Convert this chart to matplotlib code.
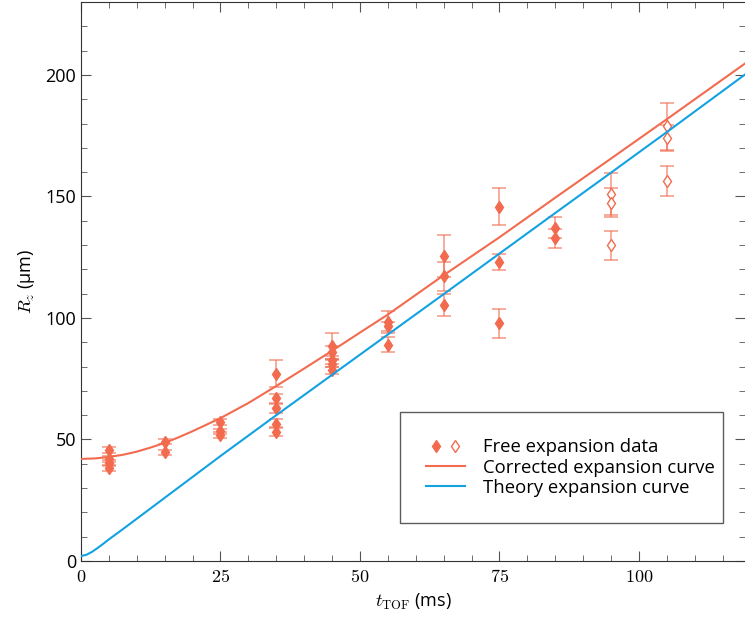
import matplotlib
matplotlib.use("Agg")
import matplotlib.pyplot as plt
import numpy as np
from matplotlib.ticker import MultipleLocator, FuncFormatter
from matplotlib.legend_handler import HandlerTuple
from matplotlib.lines import Line2D

plt.rcParams['font.family'] = ['Open Sans', 'DejaVu Sans']
plt.rcParams['mathtext.fontset'] = 'cm'

# free expansion data (filled markers)
t_filled = [5, 5, 5, 5, 15, 15, 25, 25, 25,
            35, 35, 35, 35, 35, 45, 45, 45, 45, 45,
            55, 55, 55, 65, 65, 65, 75, 75, 75, 85, 85]
r_filled = [45.5, 41.8, 40.3, 38.4, 49.0, 44.8, 57.3, 53.3, 51.9,
            77.0, 67.0, 62.8, 56.5, 53.2, 88.5, 85.8, 82.7, 81.2, 78.5,
            98.3, 96.5, 89.0, 125.5, 117.2, 105.3, 145.8, 123.2, 97.8, 137.2, 132.8]
e_filled = [1.2, 1.2, 1.2, 1.2, 1.0, 1.0, 1.2, 1.2, 1.2,
            5.5, 1.8, 1.8, 1.8, 1.8, 5.5, 2.5, 1.5, 1.5, 1.5,
            4.5, 2.0, 3.0, 8.5, 6.0, 4.5, 7.5, 3.3, 6.0, 4.5, 4.0]

# free expansion data (open markers)
t_open = [95, 95, 95, 105, 105, 105]
r_open = [151.0, 147.5, 129.9, 178.8, 174.0, 156.5]
e_open = [8.5, 6.0, 6.0, 9.5, 5.5, 6.2]

# curves
t_corr = [0, 2.5, 5, 7.5, 10, 12.5, 15, 17.5, 20, 25, 30, 35, 40, 45, 50, 55,
          65, 75, 85, 95, 105, 119.5]
r_corr = [42.0, 42.2, 42.8, 43.7, 45.0, 46.7, 48.6, 50.9, 53.4, 58.8, 65.0, 72.0, 79.2, 86.5,
          94.0, 101.4, 117.6, 133.2, 149.5, 165.6, 181.8, 205.5]
t_theo = [0, 1, 2, 3, 4, 5, 7.5, 10, 15, 20, 25, 35, 45, 55, 65, 75, 85, 95, 105, 119.5]
r_theo = [2.0, 2.6, 3.8, 5.4, 7.1, 8.9, 13.1, 17.4, 26.0, 34.6, 43.2, 60.0, 76.6, 93.2,
          109.8, 126.5, 143.2, 159.8, 176.5, 201.0]

RED = '#f26b4f'
BLUE = '#12a2e2'

fig = plt.figure(figsize=(7.45, 6.17), dpi=100)
ax = fig.add_axes([81 / 745, 56 / 617, 1 - 81 / 745, 559 / 617])

ax.errorbar(t_filled, r_filled, yerr=e_filled, fmt='none', ecolor=RED, alpha=0.65,
            elinewidth=1.2, capsize=5, capthick=1.2, zorder=2)
ax.errorbar(t_open, r_open, yerr=e_open, fmt='none', ecolor=RED, alpha=0.65,
            elinewidth=1.2, capsize=5, capthick=1.2, zorder=2)
ax.plot(t_filled, r_filled, 'd', color=RED, ms=6, zorder=3)
ax.plot(t_open, r_open, 'd', mfc='white', mec=RED, mew=1, ms=6, zorder=3)

ax.plot(t_corr, r_corr, color=RED, lw=1.5, zorder=4)
ax.plot(t_theo, r_theo, color=BLUE, lw=1.5, zorder=4)

ax.set_xlim(0, 119)
ax.set_ylim(0, 230)
ax.xaxis.set_major_locator(MultipleLocator(25))
ax.xaxis.set_minor_locator(MultipleLocator(5))
ax.yaxis.set_major_locator(MultipleLocator(50))
ax.yaxis.set_minor_locator(MultipleLocator(10))
ax.xaxis.set_major_formatter(FuncFormatter(lambda v, p: r'$%d$' % v))
ax.tick_params(which='both', direction='in', top=True, right=True, colors='#555555',
               labelcolor='black', labelsize=13)
ax.tick_params(which='major', length=7)
ax.tick_params(which='minor', length=4)
ax.tick_params(axis='x', pad=5)
for s in ax.spines.values():
    s.set_color('#333333')
ax.spines['right'].set_visible(False)

ax.set_xlabel(r'$t_\mathrm{TOF}$ (ms)', fontsize=13, labelpad=4)
ax.set_ylabel(r'$R_z$ (μm)', fontsize=13, labelpad=6)

h_f = Line2D([], [], ls='none', marker='d', color=RED, ms=6)
h_o = Line2D([], [], ls='none', marker='d', mfc='white', mec=RED, ms=6)
h_c = Line2D([], [], color=RED, lw=1.5)
h_t = Line2D([], [], color=BLUE, lw=1.5)
leg = ax.legend([(h_f, h_o), h_c, h_t],
                ['Free expansion data', 'Corrected expansion curve', 'Theory expansion curve'],
                handler_map={tuple: HandlerTuple(ndivide=None, pad=0.0)},
                loc='center', bbox_to_anchor=(0.48, 0.068, 0.487, 0.1985), mode='expand',
                borderaxespad=0, fontsize=13.3, frameon=True, fancybox=False,
                edgecolor='#333333', borderpad=1.42, labelspacing=0.13,
                handlelength=2.1, handletextpad=1.0)
leg.get_frame().set_linewidth(1.0)

fig.savefig('out.png', dpi=100)
